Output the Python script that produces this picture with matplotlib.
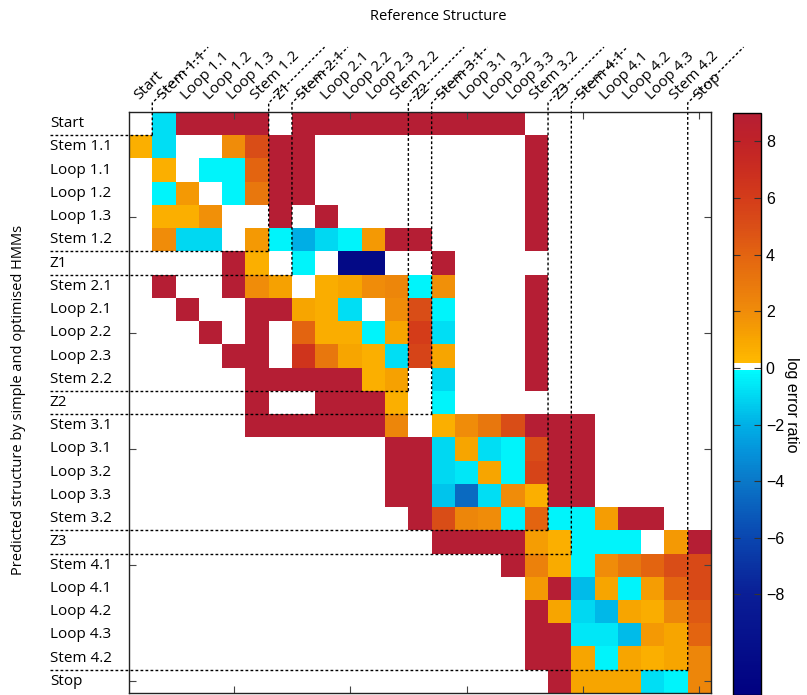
import numpy as np
import matplotlib.pyplot as plt
from matplotlib.colors import ListedColormap, Normalize

plt.rcParams['font.family'] = ['Open Sans', 'DejaVu Sans']

# states of the HMM (rows = predicted, columns = reference)
states = ['Start', 'Stem 1.1', 'Loop 1.1', 'Loop 1.2', 'Loop 1.3', 'Stem 1.2', 'Z1',
          'Stem 2.1', 'Loop 2.1', 'Loop 2.2', 'Loop 2.3', 'Stem 2.2', 'Z2',
          'Stem 3.1', 'Loop 3.1', 'Loop 3.2', 'Loop 3.3', 'Stem 3.2', 'Z3',
          'Stem 4.1', 'Loop 4.1', 'Loop 4.2', 'Loop 4.3', 'Stem 4.2', 'Stop']
single_states = ['Start', 'Z1', 'Z2', 'Z3', 'Stop']

W = np.nan   # no entry (white)
R = 9.0      # saturated (top of scale)

log_ratio = [
    [W, -0.8, R, R, R, R, W, R, R, R, R, R, R, R, R, R, R, W, W, W, W, W, W, W, W],
    [0.6, -0.8, W, W, 2.0, 5.0, R, R, W, W, W, W, W, W, W, W, W, R, W, W, W, W, W, W, W],
    [W, 0.6, W, -0.3, -0.3, 4.0, R, R, W, W, W, W, W, W, W, W, W, R, W, W, W, W, W, W, W],
    [W, -0.3, 1.5, W, -0.3, 3.0, R, R, W, W, W, W, W, W, W, W, W, R, W, W, W, W, W, W, W],
    [W, 0.6, 0.6, 1.8, W, W, R, W, R, W, W, W, W, W, W, W, W, R, W, W, W, W, W, W, W],
    [W, 2.0, -1.0, -1.0, W, 1.5, -0.3, -2.0, -1.0, -0.25, 1.5, R, R, W, W, W, W, R, W, W, W, W, W, W, W],
    [W, W, W, W, R, 0.6, W, -0.3, W, -10.5, -10.5, W, W, R, W, W, W, W, W, W, W, W, W, W, W],
    [W, R, W, W, R, 2.0, 1.2, W, 0.7, 1.0, 2.0, 2.3, -0.25, 1.8, W, W, W, R, W, W, W, W, W, W, W],
    [W, W, R, W, W, R, R, 1.0, 0.7, -0.8, W, 2.0, 5.0, -0.25, W, W, W, R, W, W, W, W, W, W, W],
    [W, W, W, R, W, R, W, 4.0, 0.7, 0.7, -0.25, 1.0, 6.0, -0.8, W, W, W, R, W, W, W, W, W, W, W],
    [W, W, W, W, R, R, W, 6.5, 3.0, 1.0, 0.6, -0.8, 5.5, 1.0, W, W, W, R, W, W, W, W, W, W, W],
    [W, W, W, W, W, R, R, R, R, R, 0.6, 1.2, W, -1.0, W, W, W, R, W, W, W, W, W, W, W],
    [W, W, W, W, W, R, W, W, R, R, R, 0.6, W, -0.25, W, W, W, W, W, W, W, W, W, W, W],
    [W, W, W, W, W, R, R, R, R, R, R, 2.3, W, 0.6, 2.0, 3.0, 5.0, R, R, R, W, W, W, W, W],
    [W, W, W, W, W, W, W, W, W, W, W, R, R, -1.0, 1.0, -0.8, -0.25, 5.0, R, R, W, W, W, W, W],
    [W, W, W, W, W, W, W, W, W, W, W, R, R, -1.0, -0.6, 1.0, -0.25, 5.5, R, R, W, W, W, W, W],
    [W, W, W, W, W, W, W, W, W, W, W, R, R, -1.5, -4.5, -0.8, 2.0, 0.6, R, R, W, W, W, W, W],
    [W, W, W, W, W, W, W, W, W, W, W, W, R, 5.0, 2.3, 2.0, -0.3, 4.0, -0.25, -0.3, 1.3, R, R, W, W],
    [W, W, W, W, W, W, W, W, W, W, W, W, W, R, R, R, R, 1.3, 0.6, -0.25, -0.25, -0.25, W, 1.5, R],
    [W, W, W, W, W, W, W, W, W, W, W, W, W, W, W, W, R, 2.5, 0.8, -0.3, 2.0, 3.0, 4.0, 5.0, 5.3],
    [W, W, W, W, W, W, W, W, W, W, W, W, W, W, W, W, W, 1.5, R, -1.7, 1.0, -0.25, 1.3, 4.0, 5.3],
    [W, W, W, W, W, W, W, W, W, W, W, W, W, W, W, W, W, R, 1.0, -1.0, -1.8, 1.0, 0.7, 2.3, 4.5],
    [W, W, W, W, W, W, W, W, W, W, W, W, W, W, W, W, W, R, R, -0.6, -0.6, -1.7, 1.5, 1.0, 4.0],
    [W, W, W, W, W, W, W, W, W, W, W, W, W, W, W, W, W, R, R, 1.0, -0.25, 1.0, 0.6, 1.0, 2.3],
    [W, W, W, W, W, W, W, W, W, W, W, W, W, W, W, W, W, W, R, 1.0, 1.0, 1.0, -0.8, -0.25, 2.3],
]
cbar_ticks = [-8, -6, -4, -2, 0, 2, 4, 6, 8]

vmin, vmax = -11.55, 9.0

# colour map: cyan->navy below zero, white band at zero, yellow->dark red above
pos_v = [0.2, 1, 2, 3, 4, 5, 6, 7, 8, 9]
pos_c = ['#FFB900', '#F8A600', '#F08C0A', '#E9780D', '#E36411', '#DA4E17',
         '#D43C1A', '#CA2D20', '#C02228', '#B51E35']
neg_v = [0, -1, -2, -3, -4, -5, -6, -7, -8, -11.55]
neg_c = ['#00FFFF', '#00D8F2', '#00B0E6', '#0592DA', '#0A78C8', '#0A5EBC',
         '#0A46B0', '#0A32A2', '#0A1E96', '#000080']


def hex2rgb(h):
    return np.array([int(h[i:i + 2], 16) / 255 for i in (1, 3, 5)])


def interp(v, vs, cs):
    vs = np.array(vs)
    order = np.argsort(vs)
    vs = vs[order]
    cs = np.array([hex2rgb(cs[i]) for i in order])
    return np.array([np.interp(v, vs, cs[:, k]) for k in range(3)])


N = 256
edges = np.linspace(vmin, vmax, N + 1)
cols = []
for lo, hi in zip(edges[:-1], edges[1:]):
    mid = 0.5 * (lo + hi)
    if -0.07 <= mid <= 0.2:
        cols.append([1, 1, 1])
    elif mid > 0:
        cols.append(interp(mid, pos_v, pos_c))
    else:
        cols.append(interp(mid, neg_v, neg_c))
cmap = ListedColormap(cols)
cmap.set_bad('white')

n = len(states)
fig = plt.figure(figsize=(8.07, 6.95), dpi=100)
ax = fig.add_axes([129 / 807, 2 / 695, 582 / 807, 581 / 695])
data = np.ma.masked_invalid(np.array(log_ratio))
im = ax.imshow(data, cmap=cmap, norm=Normalize(vmin, vmax), extent=(0, n, n, 0),
               aspect='auto', interpolation='nearest')
ax.set_xlim(0, n)
ax.set_ylim(n, 0)
ax.set_xticks(np.arange(4.5, n, 5))
ax.set_yticks(np.arange(4.5, n, 5))
ax.set_xticklabels([])
ax.set_yticklabels([])
ax.tick_params(direction='in', length=5, top=True, right=True, color='#444444')
for sp in ax.spines.values():
    sp.set_linewidth(1.0)
    sp.set_color('#222222')

# separators around the single states
bounds = set()
for s in single_states:
    i = states.index(s)
    for b in (i, i + 1):
        if 0 < b < n:
            bounds.add(b)
dash = (0, (2, 1.6))
for b in sorted(bounds):
    ax.plot([-3.4, b], [b, b], ls=dash, color='black', lw=1.0, clip_on=False)
    ax.plot([b, b, b + 2.4], [b, -0.39, -2.79], ls=dash, color='black', lw=1.0,
            clip_on=False)

for i, s in enumerate(states):
    ax.text(-3.4, i + 0.5, s, ha='left', va='center', fontsize=11)
    ax.text(i + 0.45, -0.5, s, rotation=45, rotation_mode='anchor',
            ha='left', va='baseline', fontsize=11)

fig.text(438 / 807, 1 - 16 / 695, 'Reference Structure', ha='center', va='center',
         fontsize=10.5)
fig.text(19 / 807, 1 - 400 / 695, 'Predicted structure by simple and optimised HMMs',
         rotation=90, ha='center', va='center', fontsize=10.5)

cax = fig.add_axes([733 / 807, 0.0, 28 / 807, 1 - 113 / 695])
cb = fig.colorbar(im, cax=cax)
cb.set_ticks(cbar_ticks)
cb.outline.set_linewidth(1.0)
cax.tick_params(direction='in', length=5, left=True, right=True, labelsize=11.5,
                color='#333333')
for lab in cax.get_yticklabels():
    lab.set_family(['Liberation Sans', 'DejaVu Sans'])
fig.text(792 / 807, 1 - 405 / 695, 'log error ratio', rotation=-90, ha='center',
         va='center', fontsize=11.5, family=['Liberation Sans', 'DejaVu Sans'])

fig.savefig('out.png', dpi=100)
